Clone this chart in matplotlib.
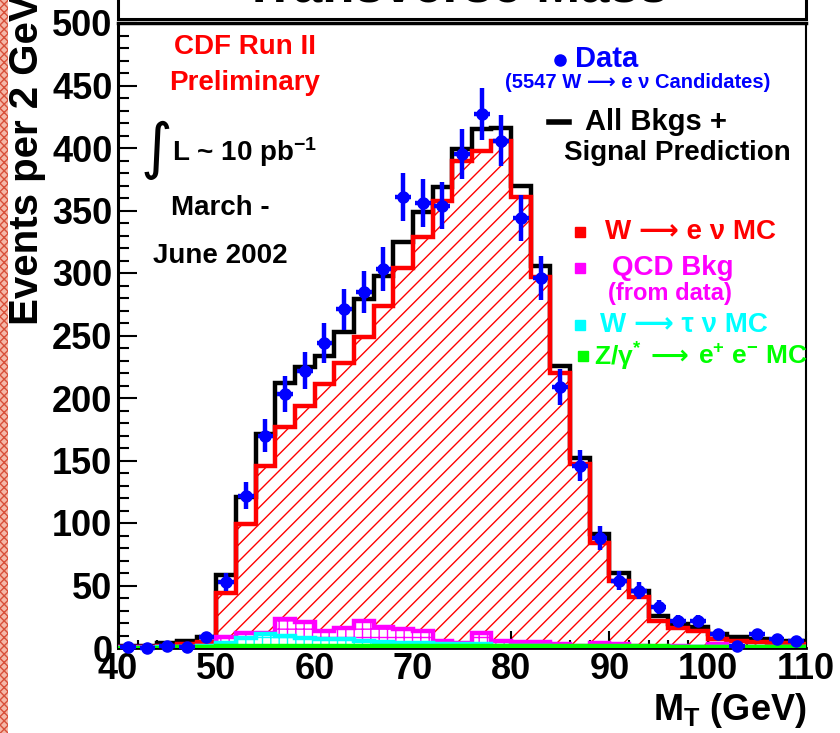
import matplotlib
matplotlib.use("Agg")
import matplotlib.pyplot as plt
import numpy as np
from matplotlib.patches import Rectangle
from matplotlib.lines import Line2D

plt.rcParams['font.family'] = ['Liberation Sans', 'DejaVu Sans']
plt.rcParams['font.weight'] = 'bold'
plt.rcParams['mathtext.fontset'] = 'custom'
plt.rcParams['mathtext.rm'] = 'Liberation Sans:bold'
plt.rcParams['mathtext.bf'] = 'Liberation Sans:bold'
plt.rcParams['mathtext.it'] = 'Liberation Sans:bold:italic'
plt.rcParams['hatch.linewidth'] = 1.0

# transverse mass bins, 2 GeV wide from 40 to 110 GeV
mt_edges = np.arange(40, 112, 2)

# observed W -> e nu candidates per bin
data = [1, 0, 2, 1, 9, 53, 122, 170, 203, 222, 244, 271, 285, 303, 361,
        356, 354, 395, 427, 406, 344, 296, 209, 146, 88, 54, 46, 33, 22,
        22, 11, 2, 11, 7, 6]

# predictions per bin
wenu = [1, 1, 2, 3, 5, 44, 99, 146, 177, 194, 211, 228, 249, 274, 304,
        329, 358, 390, 398, 406, 361, 297, 220, 147, 84, 54, 41, 22, 16,
        14, 7, 6, 5, 4, 3]
qcd = [0.5, 0.5, 1, 1, 2, 9, 12, 12, 23, 21, 14, 16, 22, 17, 15, 14, 6,
       4, 12, 6, 5, 5, 3, 2, 4, 3, 2, 1, 1.5, 1, 3, 1, 0.5, 0.5, 1]
wtaunu = [0.2, 0.3, 0.5, 1, 1.5, 4, 8, 11, 10, 8, 7, 7, 6, 5, 4, 4, 3,
          3, 3, 2, 2, 2, 1, 1, 1, 1, 1, 1, 0.5, 0.5, 0.5, 0.5, 0.5, 0.5,
          0.5]
zee = [0.2, 0.2, 0.3, 0.5, 0.5, 1.5, 2, 2, 2, 2, 2, 2, 2, 2, 2, 2, 2, 2,
       2, 2, 2, 2, 2, 2, 2, 2, 2, 1.5, 1, 1, 1, 1, 1, 1, 1]

RED = '#ff0000'
BLUE = '#0000ff'
MAGENTA = '#ff00ff'
CYAN = '#00ffff'
GREEN = '#00ff00'

W, H = 840, 733
ARROW = '\u27f6'


def fx(x):
    return x / W


def fy(y):
    return 1 - y / H


data = np.array(data, dtype=float)
total = np.array(wenu) + np.array(qcd) + np.array(wtaunu) + np.array(zee)
centers = 0.5 * (mt_edges[:-1] + mt_edges[1:])

fig = plt.figure(figsize=(W / 100, H / 100), dpi=100)
fig.patch.set_facecolor('white')

# textured strip on the left edge
fig.add_artist(Rectangle((0, 0), 8 / W, 1, transform=fig.transFigure,
                         facecolor='#f4b8a8', edgecolor='#d8503a',
                         hatch='xxxx', lw=0))

ax = fig.add_axes([fx(118), fy(648), (806 - 118) / W, (648 - 23) / H])

# signal histogram, hatched
ax.stairs(wenu, mt_edges, fill=True, facecolor='none', edgecolor=RED,
          hatch='//', lw=0, zorder=1)
# backgrounds, drawn over the signal
ax.stairs(qcd, mt_edges, fill=True, facecolor='white', edgecolor=MAGENTA,
          hatch='++', lw=0, zorder=2)
ax.stairs(wtaunu, mt_edges, fill=True, facecolor='white', edgecolor=CYAN,
          hatch='++', lw=0, zorder=3)
ax.stairs(zee, mt_edges, fill=True, facecolor='white', edgecolor=GREEN,
          hatch='++', lw=0, zorder=4)

# outlines
ax.stairs(total, mt_edges, color='black', lw=3.2, zorder=5)
ax.stairs(wenu, mt_edges, color=RED, lw=3.2, zorder=6)
ax.stairs(qcd, mt_edges, color=MAGENTA, lw=3.2, zorder=7)
ax.stairs(wtaunu, mt_edges, color=CYAN, lw=3.2, zorder=8)
ax.stairs(zee, mt_edges, color=GREEN, lw=3.2, zorder=9)

ax.errorbar(centers, data, yerr=np.sqrt(data), xerr=0.8, fmt='o',
            color=BLUE, ms=8, elinewidth=3.2, capsize=0, zorder=10,
            clip_on=False)

ax.set_xlim(40, 110)
ax.set_ylim(0, 500)
ax.set_xticks(np.arange(40, 111, 10))
ax.set_xticks(np.arange(40, 111, 2), minor=True)
ax.set_yticks(np.arange(0, 501, 50))
ax.set_yticks(np.arange(0, 501, 10), minor=True)
ax.tick_params(axis='both', which='both', direction='in', top=False,
               right=False, width=1.5, labelsize=26)
ax.tick_params(axis='y', which='major', length=14, pad=4)
ax.tick_params(axis='y', which='minor', length=8)
ax.tick_params(axis='x', which='major', length=12, pad=3)
ax.tick_params(axis='x', which='minor', length=6)
for lab in ax.get_xticklabels() + ax.get_yticklabels():
    lab.set_fontweight('bold')
ax.spines['left'].set_linewidth(2.2)
ax.spines['bottom'].set_linewidth(2.0)
ax.spines['top'].set_linewidth(2.5)
ax.spines['right'].set_linewidth(1.5)

# title box, mostly outside the canvas
fig.add_artist(Rectangle((fx(118), fy(19)), (806 - 118) / W, 30 / H,
                         transform=fig.transFigure, facecolor='white',
                         edgecolor='black', lw=2.2))
fig.text(fx(456), fy(2), 'Transverse Mass', fontsize=38,
         fontweight='bold', ha='center', va='baseline')

# axis titles
fig.text(fx(27), fy(-6), 'Events per 2 GeV', rotation=90, fontsize=29,
         fontweight='bold', ha='center', va='top')
fig.text(fx(806), fy(720), r'M$_{\mathbf{T}}$ (GeV)', fontsize=26,
         fontweight='bold', ha='right', va='baseline')

# run information
fig.text(fx(245), fy(47), 'CDF Run II', color=RED, fontsize=20,
         ha='center', va='center')
fig.text(fx(245), fy(83), 'Preliminary', color=RED, fontsize=20,
         ha='center', va='center')
fig.text(fx(156), fy(150), '\u222b', family='DejaVu Sans', fontsize=44,
         fontweight='normal', ha='center', va='center')
fig.text(fx(172), fy(152), r'L ~ 10 pb$^{-1}$', fontsize=20,
         ha='left', va='center')
fig.text(fx(220), fy(208), 'March -', fontsize=20, ha='center',
         va='center')
fig.text(fx(220), fy(256), 'June 2002', fontsize=20, ha='center',
         va='center')

# legend
fig.add_artist(Line2D([fx(560)], [fy(60)], marker='o', ms=8, color=BLUE,
                      transform=fig.transFigure))
fig.text(fx(575), fy(59), 'Data', color=BLUE, fontsize=21, ha='left',
         va='center')
fig.text(fx(638), fy(83), f'(5547 W {ARROW} e \u03bd Candidates)',
         color=BLUE, fontsize=14.5, ha='center', va='center')
fig.add_artist(Line2D([fx(549), fx(569)], [fy(122), fy(122)], lw=4,
                      color='black', transform=fig.transFigure))
fig.text(fx(585), fy(122), 'All Bkgs +', fontsize=21, ha='left',
         va='center')
fig.text(fx(677), fy(153), 'Signal Prediction', fontsize=20, ha='center',
         va='center')

legend_rows = [
    (232, RED, f'W {ARROW} e \u03bd MC', 605),
    (268, MAGENTA, 'QCD Bkg', 612),
    (325, CYAN, f'W {ARROW} \u03c4 \u03bd MC', 600),
]
for y, col, label, x0 in legend_rows:
    fig.add_artist(Line2D([fx(580)], [fy(y)], marker='s', ms=7, color=col,
                          lw=0, transform=fig.transFigure))
    fig.text(fx(x0), fy(y), label, color=col, fontsize=20, ha='left',
             va='center')
fig.text(fx(608), fy(293), '(from data)', color=MAGENTA, fontsize=17,
         ha='left', va='center')
fig.add_artist(Line2D([fx(583)], [fy(356)], marker='s', ms=7, color=GREEN,
                      lw=0, transform=fig.transFigure))
# Z label in pieces so the arrow can fall back to DejaVu Sans
fig.text(fx(594), fy(357), r'Z/γ$^{*}$', color=GREEN, fontsize=19,
         ha='left', va='center')
fig.text(fx(650), fy(357), ARROW, color=GREEN, fontsize=19,
         ha='left', va='center')
fig.text(fx(698), fy(357), r'e$^{+}$ e$^{-}$ MC', color=GREEN, fontsize=19,
         ha='left', va='center')

fig.savefig('out.png', dpi=100)
